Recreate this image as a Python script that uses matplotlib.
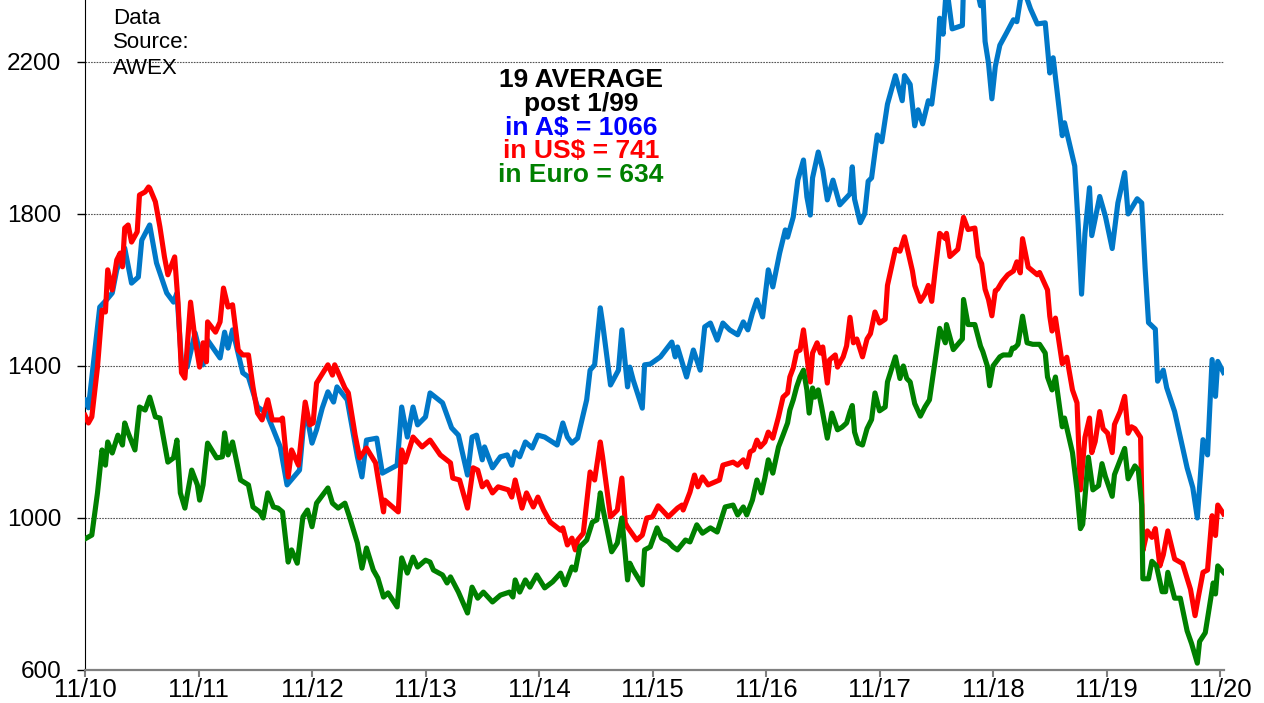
import matplotlib
matplotlib.use("Agg")
import matplotlib.pyplot as plt

plt.rcParams['font.family'] = ['Liberation Sans', 'DejaVu Sans']

# years since Nov 2010, price in cents/kg clean (EMI)
t_aud = [0, .03, .13, .19, .24, .28, .35, .41, .47, .50, .57, .63, .72, .78, .81, .85, .90, .97,
         1.04, 1.08, 1.19, 1.23, 1.26, 1.30, 1.39, 1.44, 1.52, 1.60, 1.66, 1.72, 1.78, 1.89, 1.94,
         2.00, 2.04, 2.09, 2.14, 2.19, 2.22, 2.31, 2.40, 2.44, 2.48, 2.57, 2.62, 2.75, 2.79, 2.84,
         2.89, 2.93, 3.00, 3.04, 3.15, 3.23, 3.29, 3.37, 3.41, 3.45, 3.50, 3.52, 3.59, 3.66, 3.72,
         3.76, 3.79, 3.83, 3.88, 3.94, 3.99, 4.05, 4.16, 4.21, 4.25, 4.29, 4.34, 4.42, 4.45, 4.49,
         4.54, 4.56, 4.63, 4.70, 4.73, 4.78, 4.80, 4.83, 4.91, 4.93, 4.98, 5.07, 5.17, 5.20, 5.22,
         5.30, 5.36, 5.42, 5.46, 5.51, 5.57, 5.62, 5.68, 5.75, 5.80, 5.84, 5.88, 5.92, 5.97, 6.02,
         6.06, 6.12, 6.17, 6.19, 6.24, 6.28, 6.33, 6.36, 6.39, 6.41, 6.46, 6.50, 6.54, 6.59, 6.65,
         6.74, 6.76, 6.78, 6.83, 6.87, 6.90, 6.93, 6.98, 7.02, 7.07, 7.14, 7.20, 7.22, 7.27, 7.31,
         7.34, 7.38, 7.43, 7.46, 7.51, 7.53, 7.56, 7.59, 7.64, 7.73, 7.74, 7.84, 7.89, 7.91, 7.93,
         7.96, 7.99, 8.02, 8.06, 8.12, 8.18, 8.21, 8.26, 8.33, 8.39, 8.46, 8.50, 8.53, 8.61, 8.63,
         8.72, 8.75, 8.78, 8.81, 8.85, 8.87, 8.94, 8.99, 9.05, 9.10, 9.16, 9.19, 9.27, 9.31, 9.34,
         9.37, 9.43, 9.45, 9.50, 9.53, 9.60, 9.71, 9.76, 9.80, 9.85, 9.89, 9.93, 9.96, 9.98, 10.03]
aud = [1310, 1290, 1555, 1574, 1592, 1653, 1710, 1618, 1634, 1731, 1771, 1671, 1592, 1568, 1592, 1408, 1397, 1487,
       1403, 1468, 1421, 1489, 1447, 1495, 1382, 1371, 1292, 1276, 1232, 1187, 1087, 1126, 1292,
       1197, 1232, 1289, 1332, 1305, 1345, 1311, 1161, 1108, 1205, 1210, 1118, 1139, 1292, 1213,
       1292, 1245, 1266, 1329, 1303, 1237, 1218, 1113, 1213, 1218, 1153, 1187, 1132, 1161, 1166,
       1139, 1174, 1161, 1200, 1184, 1218, 1213, 1192, 1250, 1213, 1197, 1210, 1311, 1389, 1403,
       1553, 1513, 1350, 1389, 1495, 1345, 1397, 1363, 1289, 1403, 1405, 1424, 1463, 1424, 1450,
       1371, 1442, 1389, 1503, 1513, 1468, 1513, 1495, 1482, 1516, 1495, 1539, 1574, 1529, 1653,
       1608, 1697, 1758, 1739, 1792, 1889, 1942, 1845, 1797, 1895, 1963, 1916, 1837, 1889, 1824,
       1853, 1924, 1839, 1777, 1801, 1886, 1895, 2008, 1990, 2089, 2164, 2098, 2164, 2141, 2032,
       2074, 2037, 2098, 2089, 2207, 2315, 2273, 2400, 2287, 2296, 2400, 2420, 2348, 2380, 2254,
       2197, 2103, 2188, 2244, 2277, 2311, 2306, 2400, 2340, 2300, 2303, 2171, 2211, 2006, 2040,
       1926, 1772, 1589, 1749, 1869, 1743, 1846, 1794, 1709, 1829, 1909, 1800, 1840, 1829, 1657,
       1514, 1497, 1360, 1389, 1343, 1280, 1132, 1080, 1000, 1206, 1166, 1417, 1320, 1412, 1383]

t_usd = [0, .03, .06, .11, .15, .18, .20, .24, .28, .31, .33, .35, .38, .41, .46, .48, .53, .56, .57,
         .62, .66, .70, .73, .77, .79, .82, .85, .88, .93, .97, 1.01, 1.04, 1.07, 1.08, 1.15, 1.19,
         1.22, 1.26, 1.30, 1.35, 1.39, 1.44, 1.48, 1.52, 1.56, 1.61, 1.65, 1.72, 1.74, 1.79, 1.82,
         1.88, 1.94, 1.98, 2.01, 2.04, 2.14, 2.18, 2.20, 2.29, 2.32, 2.38, 2.42, 2.48, 2.56, 2.58,
         2.63, 2.64, 2.76, 2.79, 2.82, 2.86, 2.89, 2.97, 3.04, 3.13, 3.22, 3.24, 3.30, 3.37, 3.42,
         3.46, 3.50, 3.54, 3.59, 3.64, 3.73, 3.76, 3.79, 3.85, 3.89, 3.95, 3.99, 4.04, 4.10, 4.19,
         4.21, 4.25, 4.29, 4.32, 4.34, 4.39, 4.45, 4.49, 4.54, 4.56, 4.63, 4.69, 4.73, 4.76, 4.78,
         4.86, 4.91, 4.95, 5.00, 5.05, 5.14, 5.22, 5.26, 5.27, 5.33, 5.37, 5.40, 5.44, 5.49, 5.59,
         5.62, 5.71, 5.75, 5.80, 5.83, 5.86, 5.89, 5.92, 5.95, 5.99, 6.02, 6.06, 6.11, 6.15, 6.19,
         6.21, 6.24, 6.27, 6.30, 6.33, 6.36, 6.39, 6.41, 6.45, 6.48, 6.50, 6.54, 6.56, 6.61, 6.63,
         6.68, 6.71, 6.74, 6.77, 6.80, 6.85, 6.89, 6.92, 6.96, 7.00, 7.05, 7.07, 7.14, 7.18, 7.22,
         7.25, 7.29, 7.31, 7.36, 7.40, 7.43, 7.46, 7.49, 7.53, 7.58, 7.59, 7.62, 7.69, 7.74, 7.78,
         7.84, 7.87, 7.90, 7.93, 7.96, 7.99, 8.02, 8.04, 8.08, 8.13, 8.18, 8.21, 8.24, 8.26, 8.31,
         8.35, 8.39, 8.41, 8.48, 8.50, 8.52, 8.55, 8.61, 8.65, 8.70, 8.74, 8.77, 8.81, 8.85, 8.87,
         8.90, 8.94, 8.97, 9.01, 9.05, 9.07, 9.12, 9.16, 9.19, 9.22, 9.25, 9.30, 9.32, 9.36, 9.40,
         9.43, 9.47, 9.50, 9.54, 9.60, 9.67, 9.74, 9.78, 9.81, 9.85, 9.89, 9.93, 9.96, 9.98, 10.03]
usd = [1270, 1250, 1266, 1397, 1547, 1542, 1653, 1600, 1679, 1697, 1661, 1763, 1771, 1726, 1753, 1850, 1858, 1871, 1868,
       1832, 1766, 1687, 1640, 1671, 1687, 1566, 1382, 1368, 1568, 1468, 1397, 1461, 1411, 1516, 1489, 1516,
       1605, 1555, 1561, 1442, 1429, 1429, 1345, 1276, 1258, 1311, 1258, 1258, 1263, 1108, 1179,
       1139, 1305, 1245, 1250, 1355, 1403, 1376, 1403, 1342, 1329, 1218, 1158, 1184, 1145, 1108,
       1016, 1047, 1016, 1179, 1147, 1184, 1213, 1187, 1205, 1166, 1145, 1105, 1100, 1026, 1132,
       1126, 1082, 1095, 1066, 1082, 1074, 1055, 1100, 1026, 1066, 1029, 1055, 1021, 989, 968,
       974, 929, 947, 916, 942, 960, 1121, 1100, 1200, 1161, 1003, 1021, 1105, 987, 976,
       942, 955, 1000, 1003, 1032, 1003, 1026, 1034, 1021, 1068, 1113, 1082, 1108, 1087, 1100,
       1139, 1147, 1139, 1153, 1134, 1174, 1179, 1205, 1187, 1200, 1226, 1210, 1266, 1318, 1329,
       1371, 1395, 1437, 1442, 1495, 1424, 1358, 1434, 1461, 1434, 1450, 1355, 1416, 1429, 1397,
       1424, 1453, 1528, 1461, 1471, 1424, 1471, 1485, 1542, 1513, 1523, 1612, 1707, 1702, 1740,
       1702, 1650, 1612, 1570, 1589, 1612, 1570, 1650, 1749, 1735, 1749, 1688, 1707, 1791, 1759,
       1763, 1688, 1669, 1602, 1575, 1532, 1598, 1602, 1622, 1640, 1650, 1674, 1645, 1735, 1660,
       1650, 1640, 1646, 1600, 1531, 1492, 1526, 1406, 1423, 1337, 1303, 1074, 1212, 1263, 1172,
       1201, 1280, 1235, 1223, 1172, 1246, 1280, 1320, 1223, 1240, 1235, 1212, 914, 966, 949,
       972, 874, 903, 966, 892, 880, 812, 743, 794, 857, 863, 1006, 954, 1034, 1011]

t_eur = [0, .06, .11, .15, .18, .20, .24, .29, .33, .35, .38, .44, .48, .53, .57, .62, .66, .73, .78,
         .81, .84, .88, .94, .99, 1.01, 1.04, 1.08, 1.16, 1.21, 1.23, 1.26, 1.30, 1.37, 1.44, 1.48,
         1.54, 1.57, 1.61, 1.66, 1.70, 1.74, 1.79, 1.82, 1.87, 1.92, 1.96, 2.00, 2.04, 2.14, 2.18,
         2.23, 2.29, 2.33, 2.40, 2.44, 2.48, 2.54, 2.58, 2.63, 2.67, 2.75, 2.79, 2.84, 2.89, 2.93,
         3.00, 3.04, 3.07, 3.15, 3.19, 3.22, 3.29, 3.37, 3.41, 3.46, 3.51, 3.59, 3.66, 3.74, 3.77,
         3.79, 3.83, 3.88, 3.92, 3.98, 4.05, 4.12, 4.19, 4.23, 4.29, 4.32, 4.36, 4.42, 4.47, 4.51,
         4.54, 4.56, 4.64, 4.69, 4.73, 4.78, 4.80, 4.83, 4.91, 4.93, 4.98, 5.04, 5.08, 5.14, 5.18,
         5.22, 5.29, 5.33, 5.39, 5.44, 5.51, 5.57, 5.64, 5.71, 5.75, 5.80, 5.83, 5.88, 5.92, 5.96,
         5.99, 6.02, 6.06, 6.11, 6.15, 6.19, 6.21, 6.24, 6.27, 6.30, 6.33, 6.36, 6.38, 6.41, 6.43,
         6.46, 6.49, 6.54, 6.58, 6.63, 6.67, 6.71, 6.74, 6.76, 6.78, 6.81, 6.85, 6.89, 6.93, 6.96,
         7.00, 7.05, 7.07, 7.14, 7.18, 7.21, 7.24, 7.27, 7.31, 7.36, 7.40, 7.44, 7.49, 7.53, 7.58,
         7.59, 7.65, 7.73, 7.74, 7.78, 7.84, 7.89, 7.91, 7.95, 7.97, 8.00, 8.06, 8.09, 8.15, 8.17,
         8.19, 8.22, 8.26, 8.30, 8.35, 8.41, 8.46, 8.48, 8.52, 8.55, 8.61, 8.63, 8.70, 8.74, 8.77,
         8.79, 8.84, 8.88, 8.93, 8.96, 8.99, 9.05, 9.07, 9.16, 9.19, 9.25, 9.28, 9.31, 9.32, 9.37,
         9.40, 9.44, 9.49, 9.52, 9.54, 9.60, 9.65, 9.71, 9.75, 9.80, 9.82, 9.87, 9.91, 9.94, 9.96,
         9.98, 10.03]
eur = [945, 955, 1066, 1179, 1139, 1200, 1171, 1218, 1192, 1250, 1224, 1179, 1292, 1284, 1318, 1266, 1263, 1147, 1158,
       1205, 1066, 1026, 1126, 1087, 1047, 1087, 1197, 1158, 1161, 1224, 1166, 1200, 1100, 1087, 1029,
       1016, 1000, 1066, 1029, 1026, 1016, 884, 916, 881, 1003, 1021, 977, 1039, 1079, 1039,
       1026, 1039, 1003, 934, 868, 921, 863, 842, 792, 803, 766, 895, 855, 897, 871,
       889, 884, 863, 850, 829, 845, 805, 750, 818, 789, 805, 779, 797, 805, 792,
       837, 805, 837, 818, 850, 816, 832, 855, 824, 871, 863, 924, 942, 989, 995,
       1066, 1029, 911, 934, 1000, 837, 881, 863, 824, 916, 924, 974, 947, 937, 924,
       916, 942, 937, 982, 960, 974, 963, 1029, 1034, 1008, 1029, 1008, 1047, 1100, 1066,
       1105, 1153, 1118, 1187, 1218, 1250, 1284, 1311, 1345, 1371, 1389, 1337, 1276, 1342, 1318,
       1337, 1292, 1210, 1276, 1232, 1239, 1250, 1280, 1296, 1226, 1197, 1192, 1235, 1259, 1329,
       1282, 1292, 1358, 1424, 1367, 1400, 1367, 1358, 1301, 1268, 1292, 1311, 1414, 1499, 1461,
       1509, 1443, 1471, 1575, 1509, 1509, 1452, 1438, 1400, 1348, 1400, 1424, 1429, 1429, 1447,
       1447, 1457, 1531, 1461, 1457, 1457, 1434, 1371, 1337, 1371, 1240, 1263, 1172, 1074, 972,
       983, 1160, 1074, 1085, 1143, 1109, 1057, 1114, 1183, 1103, 1137, 1126, 1034, 840, 840,
       886, 874, 806, 806, 857, 789, 789, 703, 669, 618, 675, 698, 772, 829, 800,
       874, 857]

tick_labels = ['11/10', '11/11', '11/12', '11/13', '11/14', '11/15',
               '11/16', '11/17', '11/18', '11/19', '11/20']
yticks = [600, 1000, 1400, 1800, 2200]

fig = plt.figure(figsize=(12.64, 7.03), dpi=100)
ax = fig.add_axes([85 / 1264, 33 / 703, 1139 / 1264, 670 / 703])

ax.plot(t_aud, aud, color='#0078C8', lw=3.7, solid_joinstyle='round', zorder=3)
ax.plot(t_usd, usd, color='#FF0000', lw=3.7, solid_joinstyle='round', zorder=4)
ax.plot(t_eur, eur, color='#008000', lw=3.7, solid_joinstyle='round', zorder=5)

for v in yticks[1:]:
    ax.axhline(v, color='#555555', lw=0.8, ls=(0, (1.5, 1)), zorder=1)

ax.set_xlim(0, 10.035)
ax.set_ylim(600, 2363)
ax.set_xticks(range(len(tick_labels)))
ax.set_xticklabels(tick_labels)
ax.set_yticks(yticks)
ax.tick_params(axis='y', labelsize=17.5, direction='out', length=6, width=1, pad=11)
ax.tick_params(axis='x', labelsize=18.5, direction='out', length=5, width=1.5,
               color='#808080', pad=1)
ax.spines['top'].set_visible(False)
ax.spines['right'].set_visible(False)
ax.spines['bottom'].set_color('#808080')
ax.spines['bottom'].set_linewidth(1.6)
ax.spines['left'].set_color('black')

# source note, one line at a time for even spacing
for i, s in enumerate(['Data', 'Source:', 'AWEX']):
    fig.text(113 / 1264, 1 - (18 + 25 * i) / 703, s, ha='left', va='center', fontsize=16)

notes = [('19 AVERAGE', 'black'), ('post 1/99', 'black'), ('in A$ = 1066', '#0000FF'),
         ('in US$ = 741', '#FF0000'), ('in Euro = 634', '#008000')]
for i, (s, c) in enumerate(notes):
    fig.text(581 / 1264, 1 - (80 + 23.8 * i) / 703, s, ha='center', va='center',
             fontsize=19, fontweight='bold', color=c)

fig.savefig('out.png', dpi=100)
